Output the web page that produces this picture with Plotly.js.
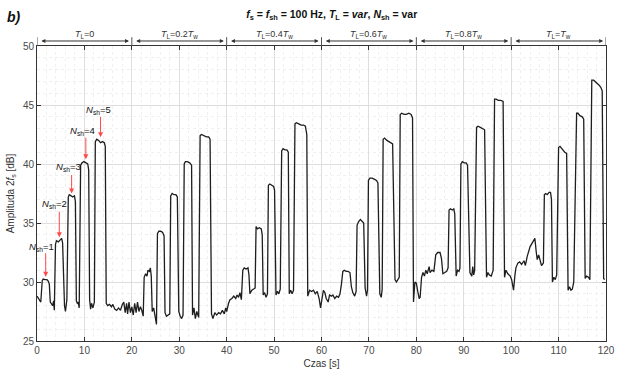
<!DOCTYPE html>
<html>
<head>
<meta charset="utf-8">
<script src="https://cdn.plot.ly/plotly-3.0.1.min.js"></script>
<style>html,body{margin:0;padding:0;background:#fff;}#chart{width:643px;height:371px;}</style>
</head>
<body>
<div id="chart"></div>
<script>
// Time axis [s] and amplitude [dB]
var timeS = [
  0,0.5,0.8,1.1,1.3,1.7,2.1,2.4,2.6,2.8,3.1,3.3,3.5,3.65,3.9,4.1,4.5,4.9,5.2,5.4,5.6,5.8,6.0,6.3,
  6.6,6.8,7.2,7.5,7.9,8.1,8.3,8.5,8.7,8.9,9.2,9.5,9.9,10.3,10.7,10.9,11.1,11.3,11.5,11.8,12.1,
  12.3,12.6,13.0,13.4,13.8,14.2,14.4,14.6,14.9,15.3,15.7,16.0,16.4,16.8,17.2,17.6,18.0,18.3,18.6,
  18.9,19.1,19.4,19.7,
  20.0,20.3,20.6,20.9,21.2,21.5,21.8,22.1,22.4,22.6,22.9,23.2,23.4,23.7,23.9,24.1,24.3,24.6,24.9,
  25.2,25.4,25.7,26.1,26.5,26.8,27.0,27.3,27.7,28.0,28.2,28.5,28.9,29.3,29.6,29.9,30.2,30.5,30.8,
  31.05,31.3,31.7,32.2,32.6,32.8,33.1,33.4,33.7,34.1,34.4,34.7,35.2,35.7,36.2,36.5,36.8,37.1,37.5,
  37.9,38.3,38.7,39.1,39.5,39.8,
  40.0,40.4,40.7,41.1,41.5,41.9,42.2,42.5,42.8,43.1,43.4,43.7,44.1,44.5,44.7,44.9,45.3,45.7,46.0,
  46.2,46.5,46.9,47.3,47.5,47.7,48.0,48.3,48.6,48.8,49.1,49.5,49.9,50.1,50.4,50.7,51.0,51.3,51.6,
  51.9,52.3,52.7,53.0,53.2,53.5,53.8,54.1,54.4,54.7,55.2,55.7,56.2,56.6,56.9,57.1,57.5,57.9,58.3,
  58.7,59.1,59.5,59.8,
  60.1,60.4,60.7,61.0,61.4,61.7,62.1,62.4,62.8,63.2,63.6,63.9,64.2,64.5,64.8,65.2,65.6,66.0,66.3,
  66.6,67.0,67.3,67.5,67.8,68.2,68.6,68.9,69.2,69.5,69.7,69.9,70.2,70.7,71.2,71.6,71.9,72.3,72.6,
  72.8,73.0,73.3,73.8,74.3,74.8,75.0,75.5,75.8,76.1,76.4,76.6,76.9,77.4,77.9,78.4,78.9,79.2,79.4,
  79.7,
  80.0,80.3,80.6,80.8,81.1,81.4,81.7,82.0,82.3,82.7,82.9,83.3,83.7,84.1,84.5,85.0,85.3,85.6,86.0,
  86.4,86.7,86.9,87.2,87.6,87.9,88.1,88.4,88.7,89.0,89.2,89.4,89.7,90.1,90.5,90.8,91.3,91.7,91.9,
  92.1,92.3,92.7,93.0,93.5,94.0,94.4,94.8,95.1,95.4,95.8,96.2,96.5,96.8,97.3,97.8,98.3,98.6,98.9,
  99.3,99.8,
  100.1,100.5,100.8,101.0,101.4,101.8,102.2,102.7,103.0,103.4,104.0,104.4,104.7,105.0,105.3,105.5,
  105.8,106.1,106.4,106.8,107.0,107.3,107.6,108.0,108.3,108.5,108.7,109.0,109.3,109.6,110.0,110.3,
  110.8,111.3,111.7,112.0,112.3,112.6,112.9,113.2,113.8,114.1,114.5,115.0,115.3,115.6,115.9,116.3,
  116.6,117.0,117.4,118.0,118.5,118.9,119.2,119.5,119.7
];
var amplitudeDb = [
  28.8,28.5,28.3,30.1,30.25,30.2,30.2,30.05,29.8,28.3,28.1,28.0,28.4,27.6,33.2,33.5,33.4,33.6,33.7,33.3,29.0,28.0,27.5,28.5,
  37.2,37.4,37.3,37.2,37.3,36.8,28.4,28.2,28.3,27.8,39.9,40.1,40.2,40.1,40.0,39.5,28.5,27.7,28.2,27.8,28.3,
  41.9,42.1,42.0,41.8,41.9,41.8,41.5,28.2,28.0,28.1,27.9,28.1,27.7,27.6,27.8,27.6,28.1,28.3,27.4,
  28.2,27.3,28.3,27.4,
  27.9,27.2,28.2,27.4,28.3,27.5,27.9,27.6,27.1,30.4,30.7,30.5,31.0,30.9,31.2,30.5,27.5,27.8,27.0,
  26.4,34.1,34.3,34.3,34.2,33.9,27.4,27.1,27.2,27.3,37.3,37.5,37.4,37.4,37.2,27.5,27.1,26.9,27.2,
  40.0,40.2,40.2,40.1,39.9,27.2,27.8,26.9,27.5,27.0,42.4,42.5,42.4,42.3,42.3,42.1,27.3,26.9,27.4,
  27.2,27.4,27.3,27.6,27.3,27.8,
  27.5,28.2,28.5,28.6,28.8,28.6,28.9,28.7,29.1,28.5,31.0,31.2,31.1,31.2,30.6,29.0,29.3,29.4,29.5,
  34.7,34.5,34.6,34.5,34.0,28.9,29.1,28.7,29.0,38.2,38.3,38.2,38.1,37.8,28.9,29.2,29.0,29.4,41.1,
  41.3,41.2,41.2,41.0,29.0,29.3,29.0,29.3,43.4,43.5,43.4,43.3,43.3,43.2,42.5,28.8,29.3,29.2,29.3,
  29.0,29.2,28.6,27.8,
  28.5,29.3,29.1,28.6,28.3,28.9,28.8,28.9,28.6,28.8,28.7,29.0,29.8,30.9,31.0,30.9,30.9,30.8,29.6,
  29.1,28.8,29.2,34.8,35.1,35.3,35.1,35.0,29.5,28.8,29.3,38.6,38.8,38.8,38.7,38.6,38.4,29.0,28.7,
  29.4,42.1,42.2,42.0,41.9,41.8,41.7,30.2,30.0,30.2,30.4,44.2,44.3,44.2,44.2,44.3,44.2,43.9,28.3,
  30.0,
  29.9,29.2,28.6,28.7,30.4,30.8,30.5,31.0,30.7,31.3,30.8,31.0,30.9,32.3,32.5,32.5,32.0,30.7,30.8,
  30.9,31.2,36.1,36.2,36.1,36.2,35.8,30.5,31.0,30.9,31.2,40.0,40.2,40.1,40.1,39.9,30.8,30.5,31.3,
  30.6,31.0,43.1,43.2,43.1,43.0,42.9,30.4,30.8,30.6,30.5,31.0,45.5,45.5,45.4,45.4,45.3,30.4,31.0,
  30.7,30.5,
  30.2,29.3,30.6,31.2,31.6,31.7,31.5,31.8,31.4,32.2,33.0,33.3,33.6,33.7,32.5,31.9,
  32.3,31.7,31.4,31.6,37.4,37.5,37.4,37.6,37.6,37.0,30.0,30.4,30.2,30.6,41.4,41.5,
  41.2,41.0,40.9,29.3,29.6,29.3,29.4,30.0,44.3,44.3,44.1,44.0,43.8,30.3,30.5,30.4,
  30.2,47.1,47.1,46.9,46.7,46.5,46.2,30.3,30.2
];

// Segment labels (top bar)
var segmentStarts = [0, 20, 40, 60, 80, 100];
var segmentLabels = [
  '<i>T</i><sub>L</sub>=0',
  '<i>T</i><sub>L</sub>=0.2<i>T</i><sub>w</sub>',
  '<i>T</i><sub>L</sub>=0.4<i>T</i><sub>w</sub>',
  '<i>T</i><sub>L</sub>=0.6<i>T</i><sub>w</sub>',
  '<i>T</i><sub>L</sub>=0.8<i>T</i><sub>w</sub>',
  '<i>T</i><sub>L</sub>=<i>T</i><sub>w</sub>'
];

// N_sh pointer annotations: target time, target amplitude, label
var nshTimes = [1.83, 4.7, 7.3, 10.3, 13.4];
var nshAmps = [30.45, 33.8, 37.5, 40.4, 42.26];
var nshLabels = ['<i>N</i><sub>sh</sub>=1', '<i>N</i><sub>sh</sub>=2', '<i>N</i><sub>sh</sub>=3', '<i>N</i><sub>sh</sub>=4', '<i>N</i><sub>sh</sub>=5'];

var xTicks = [0,10,20,30,40,50,60,70,80,90,100,110,120];
var yTicks = [25,30,35,40,45,50];

var FONT = 'Arial, "Liberation Sans", sans-serif';
var annotations = [];
var shapes = [];
var segLen = 20;

segmentStarts.forEach(function (s, i) {
  annotations.push({
    x: s + segLen - 0.6, y: 1.017, xref: 'x', yref: 'paper',
    ax: s + 0.6, ay: 0, axref: 'x', ayref: 'pixel',
    text: '', showarrow: true, arrowside: 'end+start',
    arrowhead: 2, arrowsize: 0.8, arrowwidth: 1, arrowcolor: '#333'
  });
  annotations.push({
    x: s + segLen / 2, y: 1.038, xref: 'x', yref: 'paper',
    text: segmentLabels[i], showarrow: false,
    font: {family: FONT, size: 9, color: '#333'}, xanchor: 'center', yanchor: 'middle'
  });
});
segmentStarts.concat([120]).forEach(function (s) {
  shapes.push({type: 'line', xref: 'x', yref: 'paper', x0: s, x1: s, y0: 1, y1: 1.03,
    line: {color: '#555', width: 1}});
});

var nshTextOffsets = [[-4, -30], [-5, -33], [-3, -27], [-3, -28], [-2, -27]];
var nshArrowLen = [25, 27, 20, 23, 22];
nshTimes.forEach(function (t, i) {
  annotations.push({
    x: t, y: nshAmps[i], xref: 'x', yref: 'y',
    ax: 0, ay: -nshArrowLen[i], text: '', showarrow: true,
    arrowhead: 2, arrowsize: 1, arrowwidth: 1, arrowcolor: '#ff4a4a'
  });
  annotations.push({
    x: t, y: nshAmps[i], xref: 'x', yref: 'y',
    xshift: nshTextOffsets[i][0], yshift: -nshTextOffsets[i][1],
    text: nshLabels[i], showarrow: false,
    font: {family: FONT, size: 9.5, color: '#111'}, xanchor: 'center', yanchor: 'middle'
  });
});

annotations.push({
  x: -0.056, y: 1.098, xref: 'paper', yref: 'paper', xanchor: 'left', yanchor: 'middle',
  text: '<b><i>b)</i></b>', showarrow: false, font: {family: FONT, size: 14, color: '#111'}
});

var trace = {
  x: timeS, y: amplitudeDb, type: 'scatter', mode: 'lines',
  line: {color: '#1e1e1e', width: 1.3}, hoverinfo: 'skip'
};

var layout = {
  width: 643, height: 371,
  margin: {l: 37, r: 37, t: 46, b: 30, pad: 0},
  paper_bgcolor: '#fff', plot_bgcolor: '#fff',
  showlegend: false,
  font: {family: FONT, size: 10, color: '#333'},
  title: {
    text: '<b><i>f</i><sub>s</sub> = <i>f</i><sub>sh</sub> = 100 Hz, <i>T</i><sub>L</sub> = <i>var</i>, <i>N</i><sub>sh</sub> = var</b>',
    x: 0.518, xanchor: 'center', y: 0.962, yanchor: 'middle', xref: 'paper',
    font: {family: FONT, size: 10.5, color: '#111'}
  },
  xaxis: {
    range: [0, 120], tickvals: xTicks, ticktext: xTicks.map(String),
    ticks: 'inside', ticklen: 4, tickcolor: '#333', mirror: 'ticks',
    showline: true, linecolor: '#333', linewidth: 1,
    showgrid: true, gridcolor: '#dedede', gridwidth: 1, zeroline: false,
    minor: {dtick: 2, showgrid: true, gridcolor: '#f0f0f0', griddash: 'dot'},
    tickfont: {family: FONT, size: 10, color: '#4a4a4a'},
    title: {text: 'Czas [s]', standoff: 4, font: {family: FONT, size: 10, color: '#333'}}
  },
  yaxis: {
    range: [25, 50], tickvals: yTicks, ticktext: yTicks.map(String),
    ticks: 'inside', ticklen: 4, tickcolor: '#333', mirror: 'ticks',
    showline: true, linecolor: '#333', linewidth: 1,
    showgrid: true, gridcolor: '#dedede', gridwidth: 1, zeroline: false,
    minor: {dtick: 1, showgrid: true, gridcolor: '#f0f0f0', griddash: 'dot'},
    tickfont: {family: FONT, size: 10, color: '#4a4a4a'},
    title: {text: 'Amplituda 2<i>f</i><sub>s</sub> [dB]', standoff: 6, font: {family: FONT, size: 10, color: '#333'}}
  },
  annotations: annotations,
  shapes: shapes
};

Plotly.newPlot('chart', [trace], layout, {staticPlot: true, displayModeBar: false});
</script>
</body>
</html>
